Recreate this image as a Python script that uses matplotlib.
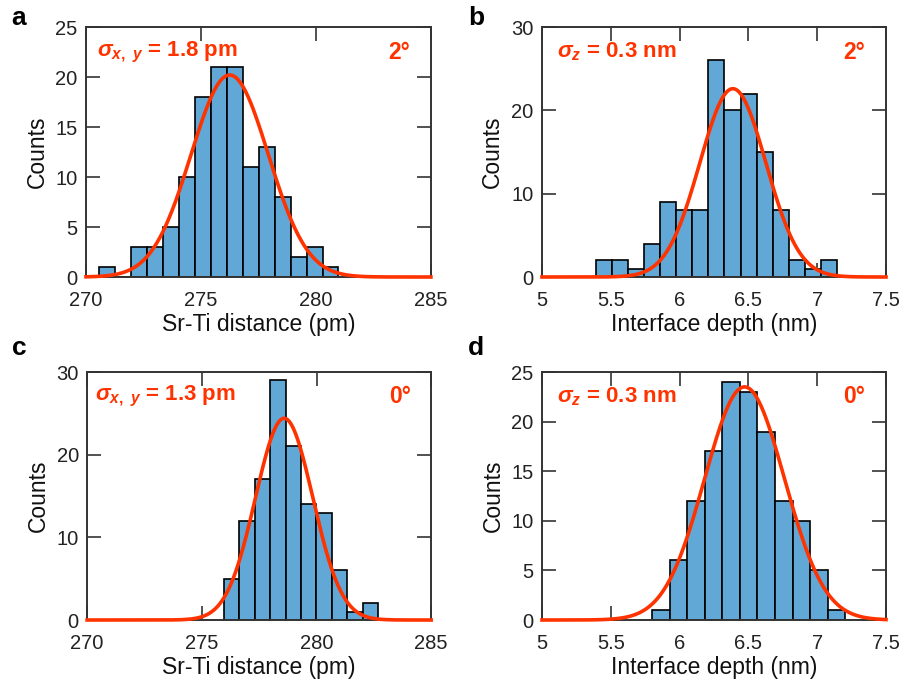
import numpy as np
import matplotlib.pyplot as plt

plt.rcParams['font.family'] = ['Liberation Sans', 'DejaVu Sans']
plt.rcParams['mathtext.fontset'] = 'custom'
plt.rcParams['mathtext.rm'] = 'Liberation Sans:bold'
plt.rcParams['mathtext.it'] = 'Liberation Sans:bold:italic'
plt.rcParams['mathtext.bf'] = 'Liberation Sans:bold'

# histogram data (bin edges start, bin width, counts)
a_start, a_width = 270.57, 0.694
a_counts = [1, 0, 3, 3, 5, 10, 18, 21, 21, 11, 13, 8, 2, 3, 1]
b_start, b_width = 5.395, 0.1164
b_counts = [2, 2, 1, 4, 9, 8, 8, 26, 20, 22, 15, 8, 2, 1, 2]
c_start, c_width = 275.97, 0.671
c_counts = [5, 12, 17, 29, 21, 14, 13, 6, 1, 2]
d_start, d_width = 5.799, 0.1278
d_counts = [1, 6, 12, 17, 24, 23, 19, 12, 10, 5, 1]

# gaussian fits: (mu, sigma, amplitude)
a_fit = (276.25, 1.68, 20.2)
b_fit = (6.387, 0.24, 22.6)
c_fit = (278.59, 1.25, 24.4)
d_fit = (6.472, 0.29, 23.5)

a_text = r'$\sigma_{x,\ y}$ = 1.8 pm'
b_text = r'$\sigma_z$ = 0.3 nm'
c_text = r'$\sigma_{x,\ y}$ = 1.3 pm'
d_text = r'$\sigma_z$ = 0.3 nm'

bar_color = '#62A8D6'
red = '#FF3300'

fig = plt.figure(figsize=(9.03, 6.86), dpi=100)

panels = [
    # letter, rect, start, width, counts, fit, text, angle, xlim, xticks, ylim, yticks, xlabel, text x, letter pos
    ('a', [0.0952, 0.5962, 0.382, 0.3644], a_start, a_width, a_counts, a_fit, a_text, '2°',
     (270, 285), [270, 275, 280, 285], (0, 25), [0, 5, 10, 15, 20, 25], 'Sr-Ti distance (pm)', 0.032,
     (0.013, 0.964)),
    ('b', [0.6002, 0.5962, 0.381, 0.3644], b_start, b_width, b_counts, b_fit, b_text, '2°',
     (5, 7.5), [5, 5.5, 6, 6.5, 7, 7.5], (0, 30), [0, 10, 20, 30], 'Interface depth (nm)', 0.043,
     (0.518, 0.964)),
    ('c', [0.0965, 0.0962, 0.381, 0.3615], c_start, c_width, c_counts, c_fit, c_text, '0°',
     (270, 285), [270, 275, 280, 285], (0, 30), [0, 10, 20, 30], 'Sr-Ti distance (pm)', 0.022,
     (0.013, 0.482)),
    ('d', [0.6002, 0.0962, 0.381, 0.3615], d_start, d_width, d_counts, d_fit, d_text, '0°',
     (5, 7.5), [5, 5.5, 6, 6.5, 7, 7.5], (0, 25), [0, 5, 10, 15, 20, 25], 'Interface depth (nm)', 0.043,
     (0.518, 0.482)),
]

for (letter, rect, start, width, counts, fit, txt, ang, xlim, xticks, ylim, yticks,
     xlabel, tx, lpos) in panels:
    ax = fig.add_axes(rect)
    lefts = start + width * np.arange(len(counts))
    ax.bar(lefts, counts, width=width, align='edge', color=bar_color,
           edgecolor='black', linewidth=1.2, zorder=2)
    mu, sig, amp = fit
    xs = np.linspace(xlim[0], xlim[1], 600)
    ax.plot(xs, amp * np.exp(-0.5 * ((xs - mu) / sig) ** 2), color=red,
            lw=2.6, zorder=4, clip_on=False)
    ax.set_xlim(xlim)
    ax.set_ylim(ylim)
    ax.set_xticks(xticks)
    ax.set_xticklabels([f'{t:g}' for t in xticks])
    ax.set_yticks(yticks)
    ax.tick_params(direction='in', length=10, width=1.2, top=True, right=True,
                   labelsize=14.5, colors='#333333', labelcolor='#222222')
    ax.tick_params(axis='x', pad=10)
    ax.tick_params(axis='y', pad=6)
    for s in ax.spines.values():
        s.set_linewidth(1.4)
        s.set_color('#333333')
        s.set_zorder(3)
    ax.set_xlabel(xlabel, fontsize=16.5, color='#111111', labelpad=2)
    ax.set_ylabel('Counts', fontsize=16.5, color='#111111', labelpad=5)
    ax.text(tx, 0.9, txt, transform=ax.transAxes, color=red, fontsize=16,
            fontweight='bold', ha='left', va='center', zorder=5)
    ax.text(0.94, 0.9, ang, transform=ax.transAxes, color=red, fontsize=16.5,
            fontweight='bold', ha='right', va='center', zorder=5)
    fig.text(lpos[0], lpos[1], letter, fontsize=19, fontweight='bold',
             ha='left', va='baseline')

fig.savefig('out.png', dpi=100)
